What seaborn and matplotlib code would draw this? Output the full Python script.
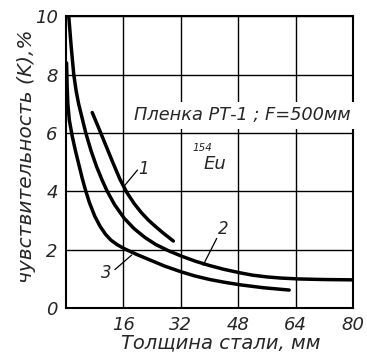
import pandas as pd
import numpy as np
import matplotlib
matplotlib.use("Agg")
import matplotlib.pyplot as plt
import seaborn as sns

sns.set_style("white")
plt.rcParams['font.family'] = ['DejaVu Sans']
plt.rcParams['font.style'] = 'italic'

# значения
x1 = [7.3, 9.0, 11.0, 13.0, 15.0, 17.0, 19.0, 21.0, 23.0, 25.0, 27.0, 29.9]
y1 = [6.7, 6.2, 5.6, 5.0, 4.42, 3.95, 3.58, 3.27, 3.01, 2.79, 2.58, 2.3]

x2 = [0.75, 1.4, 2.15, 2.8, 3.5, 4.5, 5.5, 7.0, 8.5, 10.0, 11.4, 13.5, 16.2,
      19.0, 22.0, 25.0, 28.5, 32.2, 36.0, 40.0, 44.0, 48.5, 52.0, 56.0, 60.0,
      65.0, 72.0, 80.0]
y2 = [10.0, 9.0, 8.0, 7.45, 7.0, 6.5, 6.0, 5.38, 4.85, 4.4, 4.02, 3.55, 3.08,
      2.72, 2.42, 2.18, 1.97, 1.78, 1.61, 1.46, 1.33, 1.21, 1.13, 1.07, 1.03,
      1.0, 0.98, 0.97]

x3 = [0.15, 0.3, 0.5, 0.9, 1.7, 2.6, 3.5, 4.5, 5.4, 6.5, 8.0, 9.5, 11.0, 12.5,
      14.3, 16.2, 19.5, 23.4, 27.5, 32.2, 36.0, 40.1, 44.0, 48.5, 55.0, 62.2]
y3 = [8.4, 7.6, 7.0, 6.45, 5.9, 5.4, 4.95, 4.45, 4.05, 3.62, 3.15, 2.8, 2.53,
      2.33, 2.17, 2.04, 1.85, 1.65, 1.44, 1.24, 1.1, 0.98, 0.89, 0.8, 0.7, 0.62]

curve_names = ['1', '2', '3']
xticks = [16, 32, 48, 64, 80]
yticks = [0, 2, 4, 6, 8, 10]

df = pd.concat([
    pd.DataFrame({'x': x1, 'y': y1, 'c': '1'}),
    pd.DataFrame({'x': x2, 'y': y2, 'c': '2'}),
    pd.DataFrame({'x': x3, 'y': y3, 'c': '3'}),
])

fig = plt.figure(figsize=(3.67, 3.60), dpi=100)
ax = fig.add_axes([0.18, 0.144, 0.782, 0.811])

sns.lineplot(data=df, x='x', y='y', units='c', estimator=None, sort=False,
             color='black', linewidth=2.5, ax=ax, legend=False,
             solid_joinstyle='round', solid_capstyle='round')

ax.set_xlim(0, 80)
ax.set_ylim(0, 10)
ax.set_xticks(xticks)
ax.set_yticks(yticks)
ax.tick_params(length=0, labelsize=13, pad=6)
ax.grid(True, color='black', linewidth=1.0)
for s in ax.spines.values():
    s.set_color('black')
    s.set_linewidth(1.5)

ax.set_xlabel('Толщина стали, мм', fontsize=14)
ax.set_ylabel('чувствительность (K),%', fontsize=14.5)
ax.xaxis.set_label_coords(0.54, -0.085)
ax.yaxis.set_label_coords(-0.105, 0.52)

ax.text(19.0, 6.6, 'Пленка РТ-1 ; F=500мм', fontsize=12.8, va='center', ha='left',
        bbox=dict(facecolor='white', edgecolor='none', pad=3))
ax.text(35.3, 5.3, '154', fontsize=7.5, va='bottom', ha='left')
ax.text(38.3, 4.95, 'Eu', fontsize=13, va='center', ha='left')

# подписи кривых с выносками
ax.plot([16.0, 19.9], [4.15, 4.73], color='black', linewidth=0.9)
ax.text(20.2, 4.75, curve_names[0], fontsize=12, ha='left', va='center')
ax.plot([38.2, 42.0], [1.47, 2.39], color='black', linewidth=0.9)
ax.text(42.4, 2.7, curve_names[1], fontsize=12, ha='left', va='center')
ax.plot([13.6, 18.3], [1.32, 1.82], color='black', linewidth=0.9)
ax.text(12.8, 1.2, curve_names[2], fontsize=12, ha='right', va='center')

fig.savefig('out.png', dpi=100)
